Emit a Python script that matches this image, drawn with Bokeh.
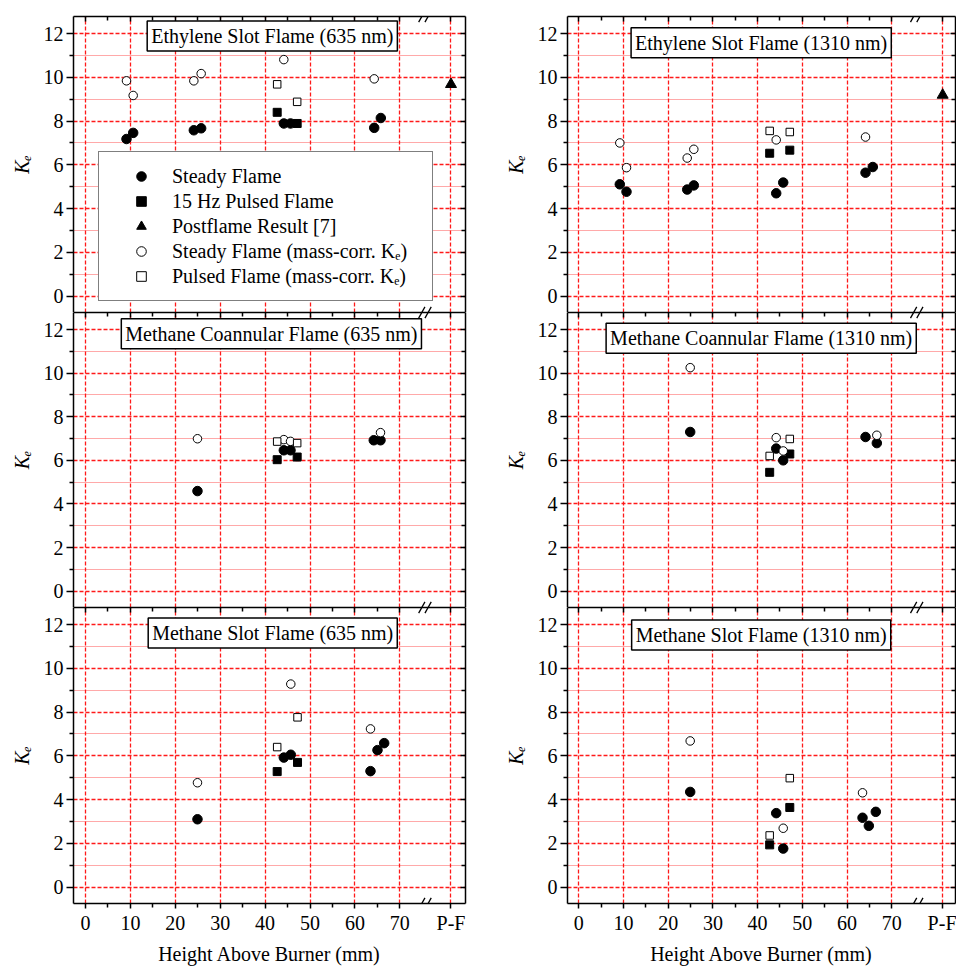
from bokeh.plotting import figure
from bokeh.models import (LinearAxis, FixedTicker, Grid, Range1d, Label, Legend,
                          LegendItem, Arrow)
from bokeh.layouts import column, row
from bokeh.embed import file_html
from bokeh.resources import INLINE

FONT = "Liberation Serif"

# ---------------- axis definitions ----------------
PF = 81.4  # position of the "P-F" (postflame) column on the broken x axis
x_major = [0, 10, 20, 30, 40, 50, 60, 70, PF]
x_minor = [5, 15, 25, 35, 45, 55, 65]
x_labels = {PF: "P-F"}
y_major = [0, 2, 4, 6, 8, 10, 12]
y_minor = [1, 3, 5, 7, 9, 11]

# ---------------- data ----------------
# Ethylene slot flame, 635 nm
eth635_steady_x = [9.13, 10.62, 24.13, 25.76, 44.17, 45.66, 64.3, 65.77]
eth635_steady_y = [7.18, 7.46, 7.58, 7.67, 7.89, 7.89, 7.69, 8.14]
eth635_pulsed_x = [42.69, 47.14]
eth635_pulsed_y = [8.40, 7.89]
eth635_post_x = [PF]
eth635_post_y = [9.68]
eth635_steady_mc_x = [9.13, 10.62, 24.13, 25.76, 44.17, 64.3]
eth635_steady_mc_y = [9.84, 9.17, 9.84, 10.17, 10.81, 9.93]
eth635_pulsed_mc_x = [42.69, 47.14]
eth635_pulsed_mc_y = [9.68, 8.88]

# Ethylene slot flame, 1310 nm
eth1310_steady_x = [9.17, 10.67, 24.25, 25.73, 44.16, 45.73, 64.14, 65.77]
eth1310_steady_y = [5.11, 4.77, 4.87, 5.06, 4.70, 5.19, 5.64, 5.90]
eth1310_pulsed_x = [42.7, 47.2]
eth1310_pulsed_y = [6.53, 6.67]
eth1310_post_x = [PF]
eth1310_post_y = [9.19]
eth1310_steady_mc_x = [9.17, 10.67, 24.25, 25.73, 44.16, 64.14]
eth1310_steady_mc_y = [7.00, 5.87, 6.31, 6.71, 7.14, 7.27]
eth1310_pulsed_mc_x = [42.7, 47.2]
eth1310_pulsed_mc_y = [7.55, 7.50]

# Methane coannular flame, 635 nm
coa635_steady_x = [24.94, 44.17, 45.66, 64.2, 65.7]
coa635_steady_y = [4.59, 6.46, 6.46, 6.92, 6.92]
coa635_pulsed_x = [42.69, 47.14]
coa635_pulsed_y = [6.03, 6.15]
coa635_steady_mc_x = [24.94, 44.17, 45.66, 65.7]
coa635_steady_mc_y = [6.99, 6.95, 6.87, 7.27]
coa635_pulsed_mc_x = [42.69, 47.14]
coa635_pulsed_mc_y = [6.86, 6.79]

# Methane coannular flame, 1310 nm
coa1310_steady_x = [24.92, 44.16, 45.73, 64.14, 66.67]
coa1310_steady_y = [7.30, 6.54, 6.00, 7.07, 6.79]
coa1310_pulsed_x = [42.7, 47.2]
coa1310_pulsed_y = [5.45, 6.29]
coa1310_steady_mc_x = [24.92, 44.16, 45.73, 66.67]
coa1310_steady_mc_y = [10.25, 7.04, 6.43, 7.15]
coa1310_pulsed_mc_x = [42.7, 47.2]
coa1310_pulsed_mc_y = [6.20, 6.98]

# Methane slot flame, 635 nm
met635_steady_x = [24.94, 44.17, 45.72, 63.47, 65.03, 66.52]
met635_steady_y = [3.10, 5.92, 6.05, 5.30, 6.26, 6.58]
met635_pulsed_x = [42.69, 47.22]
met635_pulsed_y = [5.28, 5.70]
met635_steady_mc_x = [24.94, 45.72, 63.47]
met635_steady_mc_y = [4.77, 9.28, 7.23]
met635_pulsed_mc_x = [42.69, 47.22]
met635_pulsed_mc_y = [6.40, 7.76]

# Methane slot flame, 1310 nm
met1310_steady_x = [24.92, 44.16, 45.73, 63.47, 64.88, 66.44]
met1310_steady_y = [4.35, 3.38, 1.76, 3.17, 2.80, 3.44]
met1310_pulsed_x = [42.7, 47.2]
met1310_pulsed_y = [1.93, 3.64]
met1310_steady_mc_x = [24.92, 45.73, 63.47]
met1310_steady_mc_y = [6.68, 2.69, 4.31]
met1310_pulsed_mc_x = [42.7, 47.2]
met1310_pulsed_mc_y = [2.36, 4.98]

titles = ["Ethylene Slot Flame (635 nm)", "Ethylene Slot Flame (1310 nm)",
          "Methane Coannular Flame (635 nm)", "Methane Coannular Flame (1310 nm)",
          "Methane Slot Flame (635 nm)", "Methane Slot Flame (1310 nm)"]

legend_labels = ["Steady Flame", "15 Hz Pulsed Flame", "Postflame Result [7]",
                 "Steady Flame (mass-corr. K\u2091)", "Pulsed Flame (mass-corr. K\u2091)"]

y_label = "K\u2091"
x_label = "Height Above Burner (mm)"

panels = [
    dict(steady=(eth635_steady_x, eth635_steady_y), pulsed=(eth635_pulsed_x, eth635_pulsed_y),
         post=(eth635_post_x, eth635_post_y), steady_mc=(eth635_steady_mc_x, eth635_steady_mc_y),
         pulsed_mc=(eth635_pulsed_mc_x, eth635_pulsed_mc_y)),
    dict(steady=(eth1310_steady_x, eth1310_steady_y), pulsed=(eth1310_pulsed_x, eth1310_pulsed_y),
         post=(eth1310_post_x, eth1310_post_y), steady_mc=(eth1310_steady_mc_x, eth1310_steady_mc_y),
         pulsed_mc=(eth1310_pulsed_mc_x, eth1310_pulsed_mc_y)),
    dict(steady=(coa635_steady_x, coa635_steady_y), pulsed=(coa635_pulsed_x, coa635_pulsed_y),
         steady_mc=(coa635_steady_mc_x, coa635_steady_mc_y),
         pulsed_mc=(coa635_pulsed_mc_x, coa635_pulsed_mc_y)),
    dict(steady=(coa1310_steady_x, coa1310_steady_y), pulsed=(coa1310_pulsed_x, coa1310_pulsed_y),
         steady_mc=(coa1310_steady_mc_x, coa1310_steady_mc_y),
         pulsed_mc=(coa1310_pulsed_mc_x, coa1310_pulsed_mc_y)),
    dict(steady=(met635_steady_x, met635_steady_y), pulsed=(met635_pulsed_x, met635_pulsed_y),
         steady_mc=(met635_steady_mc_x, met635_steady_mc_y),
         pulsed_mc=(met635_pulsed_mc_x, met635_pulsed_mc_y)),
    dict(steady=(met1310_steady_x, met1310_steady_y), pulsed=(met1310_pulsed_x, met1310_pulsed_y),
         steady_mc=(met1310_steady_mc_x, met1310_steady_mc_y),
         pulsed_mc=(met1310_pulsed_mc_x, met1310_pulsed_mc_y)),
]

# ---------------- layout constants ----------------
COL_W = [475, 481]
COL_BL = [73, 92]
COL_BR = [10, 1]
COL_XR = [(-2.67, 84.63), (-2.53, 84.27)]
ROW_H = [312, 295, 360]
ROW_BT = [16, 0, 0]
ROW_BB = [0, 0, 64]
Y_RANGE = (-0.75, 12.78)
TITLE_POS = [(41.6, 11.89), (40.8, 11.58), (41.4, 11.80), (40.8, 11.60), (41.7, 11.62), (40.8, 11.52)]
BREAK_X = 75.6
GRID_RED = "#ff1a1a"

styles = dict(
    steady=dict(marker="circle", size=9.5, fill_color="black", line_color="black", line_width=1),
    pulsed=dict(marker="square", size=8, fill_color="black", line_color="black", line_width=1),
    post=dict(marker="triangle", size=11, fill_color="black", line_color="black", line_width=1),
    steady_mc=dict(marker="circle", size=8.5, fill_color="white", line_color="black", line_width=1),
    pulsed_mc=dict(marker="square", size=7.5, fill_color="white", line_color="black", line_width=1),
)


def tick_axis(ticker, labels=True, tick_in=0, tick_out=0, minor_in=0, minor_out=0):
    ax = LinearAxis(ticker=ticker)
    ax.axis_line_color = "black"
    ax.axis_line_width = 1.5
    ax.major_tick_line_color = "black"
    ax.minor_tick_line_color = "black"
    ax.major_tick_line_width = 1.5
    ax.minor_tick_line_width = 1.5
    ax.major_tick_in = tick_in
    ax.major_tick_out = tick_out
    ax.minor_tick_in = minor_in
    ax.minor_tick_out = minor_out
    ax.major_label_text_font = FONT
    ax.major_label_text_color = "black"
    ax.axis_label_text_color = "black"
    if labels:
        ax.major_label_text_font_size = "20px"
    else:
        ax.major_label_text_font_size = "0px"
        ax.major_label_standoff = 0
        ax.major_label_overrides = {t: "" for t in ticker.ticks}
    return ax


def add_break(p, y_edge):
    for dx in (-0.7, 0.7):
        p.add_layout(Arrow(end=None, start=None,
                           x_start=BREAK_X + dx - 0.7, y_start=y_edge - 0.26,
                           x_end=BREAK_X + dx + 0.7, y_end=y_edge + 0.26,
                           line_color="black", line_width=1.3))


figs = []
for i, data in enumerate(panels):
    r, c = divmod(i, 2)
    p = figure(width=COL_W[c], height=ROW_H[r], output_backend="svg", toolbar_location=None,
               x_axis_location=None, y_axis_location=None,
               x_range=Range1d(*COL_XR[c]), y_range=Range1d(*Y_RANGE),
               min_border=0, min_border_left=COL_BL[c], min_border_right=COL_BR[c],
               min_border_top=ROW_BT[r], min_border_bottom=ROW_BB[r])
    p.center = [obj for obj in p.center if not isinstance(obj, Grid)]
    p.outline_line_color = None
    p.background_fill_color = "white"
    p.border_fill_color = "white"

    xt = FixedTicker(ticks=x_major, minor_ticks=x_minor)
    yt = FixedTicker(ticks=y_major, minor_ticks=y_minor)

    p.add_layout(Grid(dimension=0, ticker=xt, grid_line_color=GRID_RED, grid_line_width=1.3,
                      grid_line_dash="4 2"))
    p.add_layout(Grid(dimension=1, ticker=yt, grid_line_color=GRID_RED, grid_line_width=1.3,
                      grid_line_dash="4 2", minor_grid_line_color=GRID_RED,
                      minor_grid_line_width=1.2, minor_grid_line_dash="1 1",
                      minor_grid_line_alpha=0.75))

    # left axis
    ly = tick_axis(yt, labels=True, tick_out=7, minor_out=4)
    ly.major_label_standoff = 3
    ly.axis_label = y_label
    ly.axis_label_text_font = FONT
    ly.axis_label_text_font_size = "20px"
    ly.axis_label_text_font_style = "italic"
    ly.axis_label_standoff = 8
    p.add_layout(ly, "left")
    # right axis (ticks inward)
    p.add_layout(tick_axis(FixedTicker(ticks=y_major, minor_ticks=y_minor), labels=False,
                           tick_in=5, minor_in=4), "right")
    # top axis (ticks inward)
    p.add_layout(tick_axis(FixedTicker(ticks=x_major, minor_ticks=x_minor), labels=False,
                           tick_in=5, minor_in=4), "above")
    # bottom axis
    if r == 2:
        bx = tick_axis(FixedTicker(ticks=x_major, minor_ticks=x_minor), labels=True,
                       tick_out=5, minor_out=4)
        bx.major_label_overrides = x_labels
        bx.major_label_standoff = 3
        bx.axis_label = x_label
        bx.axis_label_text_font = FONT
        bx.axis_label_text_font_size = "20px"
        bx.axis_label_text_font_style = "normal"
        bx.axis_label_standoff = 6
        p.add_layout(bx, "below")
    else:
        p.add_layout(tick_axis(FixedTicker(ticks=x_major, minor_ticks=x_minor), labels=False),
                     "below")

    rends = {}
    for key in ["steady", "pulsed", "post", "steady_mc", "pulsed_mc"]:
        if key in data:
            xs, ys = data[key]
            rends[key] = p.scatter(xs, ys, **styles[key])

    if i == 0:
        items = [LegendItem(label=lab, renderers=[rends[k]])
                 for lab, k in zip(legend_labels, ["steady", "pulsed", "post", "steady_mc", "pulsed_mc"])]
        leg = Legend(items=items, location=(25, 11), label_text_font=FONT,
                     label_text_font_size="20px", label_text_color="black",
                     border_line_color="black",
                     border_line_width=1.5, background_fill_color="white",
                     background_fill_alpha=1.0, padding=12, spacing=1, glyph_width=60,
                     glyph_height=24, label_standoff=1, label_height=20, label_width=248,
                     margin=0)
        p.add_layout(leg)

    tx, ty = TITLE_POS[i]
    p.add_layout(Label(x=tx, y=ty, text=titles[i], text_font=FONT, text_font_size="20px",
                       text_align="center", text_baseline="middle", text_color="black",
                       background_fill_color="white", border_line_color="black",
                       border_line_width=1.5, padding=4))

    add_break(p, Y_RANGE[1])
    add_break(p, Y_RANGE[0])
    figs.append(p)

layout = column(row(figs[0], figs[1]), row(figs[2], figs[3]), row(figs[4], figs[5]))
open("out.html", "w").write(file_html(layout, INLINE))
